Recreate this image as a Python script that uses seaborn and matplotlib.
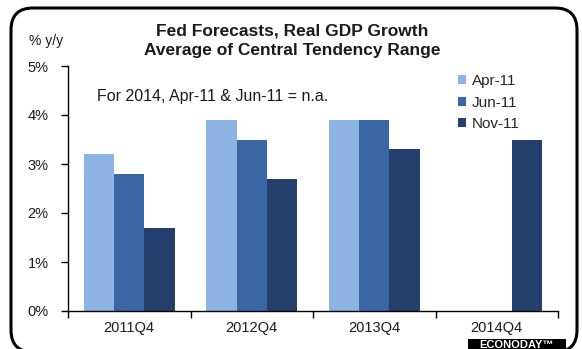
import matplotlib
matplotlib.use("Agg")
import matplotlib.pyplot as plt
import seaborn as sns
import pandas as pd
import numpy as np
from matplotlib.patches import FancyBboxPatch, Rectangle
from matplotlib.transforms import IdentityTransform
from matplotlib.ticker import FuncFormatter

quarters = ["2011Q4", "2012Q4", "2013Q4", "2014Q4"]
apr11 = [3.2, 3.9, 3.9, np.nan]
jun11 = [2.8, 3.5, 3.9, np.nan]
nov11 = [1.7, 2.7, 3.3, 3.5]
series_names = ["Apr-11", "Jun-11", "Nov-11"]
colors = ["#8db3e2", "#3a66a3", "#243f6b"]

rows = []
for name, vals in zip(series_names, [apr11, jun11, nov11]):
    for q, v in zip(quarters, vals):
        rows.append({"quarter": q, "forecast": name, "value": v})
df = pd.DataFrame(rows)

sns.set_theme(style="white")
plt.rcParams["font.family"] = ["Liberation Sans", "DejaVu Sans"]

W, H = 582, 349
fig = plt.figure(figsize=(W/100, H/100), dpi=100)
fig.patch.set_facecolor("white")
ax = fig.add_axes([68/W, 1-311/H, (558-68)/W, (311-66)/H])

sns.barplot(data=df, x="quarter", y="value", hue="forecast", order=quarters,
            hue_order=series_names, palette=colors, errorbar=None, width=0.74,
            saturation=1, ax=ax, linewidth=0)

ax.set_ylim(0, 5)
ax.set_xlim(-0.5, 3.5)
ax.set_yticks([0, 1, 2, 3, 4, 5])
ax.yaxis.set_major_formatter(FuncFormatter(lambda v, p: f"{int(v)}%"))
ax.set_xlabel("")
ax.set_ylabel("")
for s in ["top", "right"]:
    ax.spines[s].set_visible(False)
for s in ["left", "bottom"]:
    ax.spines[s].set_color("black")
    ax.spines[s].set_linewidth(1.0)
ax.tick_params(axis="y", which="major", direction="out", length=5, width=1,
               color="black", labelsize=10.5, labelcolor="#1a1a1a", pad=9, left=True)
ax.tick_params(axis="x", which="major", length=0, labelsize=10.5, labelcolor="#1a1a1a", pad=7)
ax.set_xticks([-0.5, 0.5, 1.5, 2.5, 3.5], minor=True)
ax.tick_params(axis="x", which="minor", direction="out", length=5, width=1, color="black", bottom=True)

leg = ax.legend(loc="upper left", bbox_to_anchor=(458/W, 1-74/H),
                bbox_transform=fig.transFigure, frameon=False, fontsize=11,
                handlelength=0.55, handleheight=0.55, handletextpad=0.35,
                labelspacing=0.5, borderaxespad=0, borderpad=0)

fig.text(292/W, 1-31/H, "Fed Forecasts, Real GDP Growth", ha="center", va="center",
         fontsize=12.5, fontweight="bold", color="#1a1a1a")
fig.text(292/W, 1-50/H, "Average of Central Tendency Range", ha="center", va="center",
         fontsize=12.5, fontweight="bold", color="#1a1a1a")
fig.text(29/W, 1-41/H, "% y/y", ha="left", va="center", fontsize=10, color="#1a1a1a")
fig.text(97/W, 1-96/H, "For 2014, Apr-11 & Jun-11 = n.a.", ha="left", va="center",
         fontsize=11.5, color="#1a1a1a")

border = FancyBboxPatch((11, -3), 566, 344, boxstyle="round,pad=0,rounding_size=22",
                        transform=IdentityTransform(), facecolor="none", edgecolor="black",
                        linewidth=2.2)
fig.patches.append(border)

logo = Rectangle((468, -2), 98, 12, transform=IdentityTransform(), facecolor="black",
                 edgecolor="none")
fig.patches.append(logo)
fig.text(517/W, 1-344.5/H, "ECONODAY\u2122", ha="center", va="center", fontsize=8,
         fontweight="bold", color="white")

fig.savefig("out.png", dpi=100)
